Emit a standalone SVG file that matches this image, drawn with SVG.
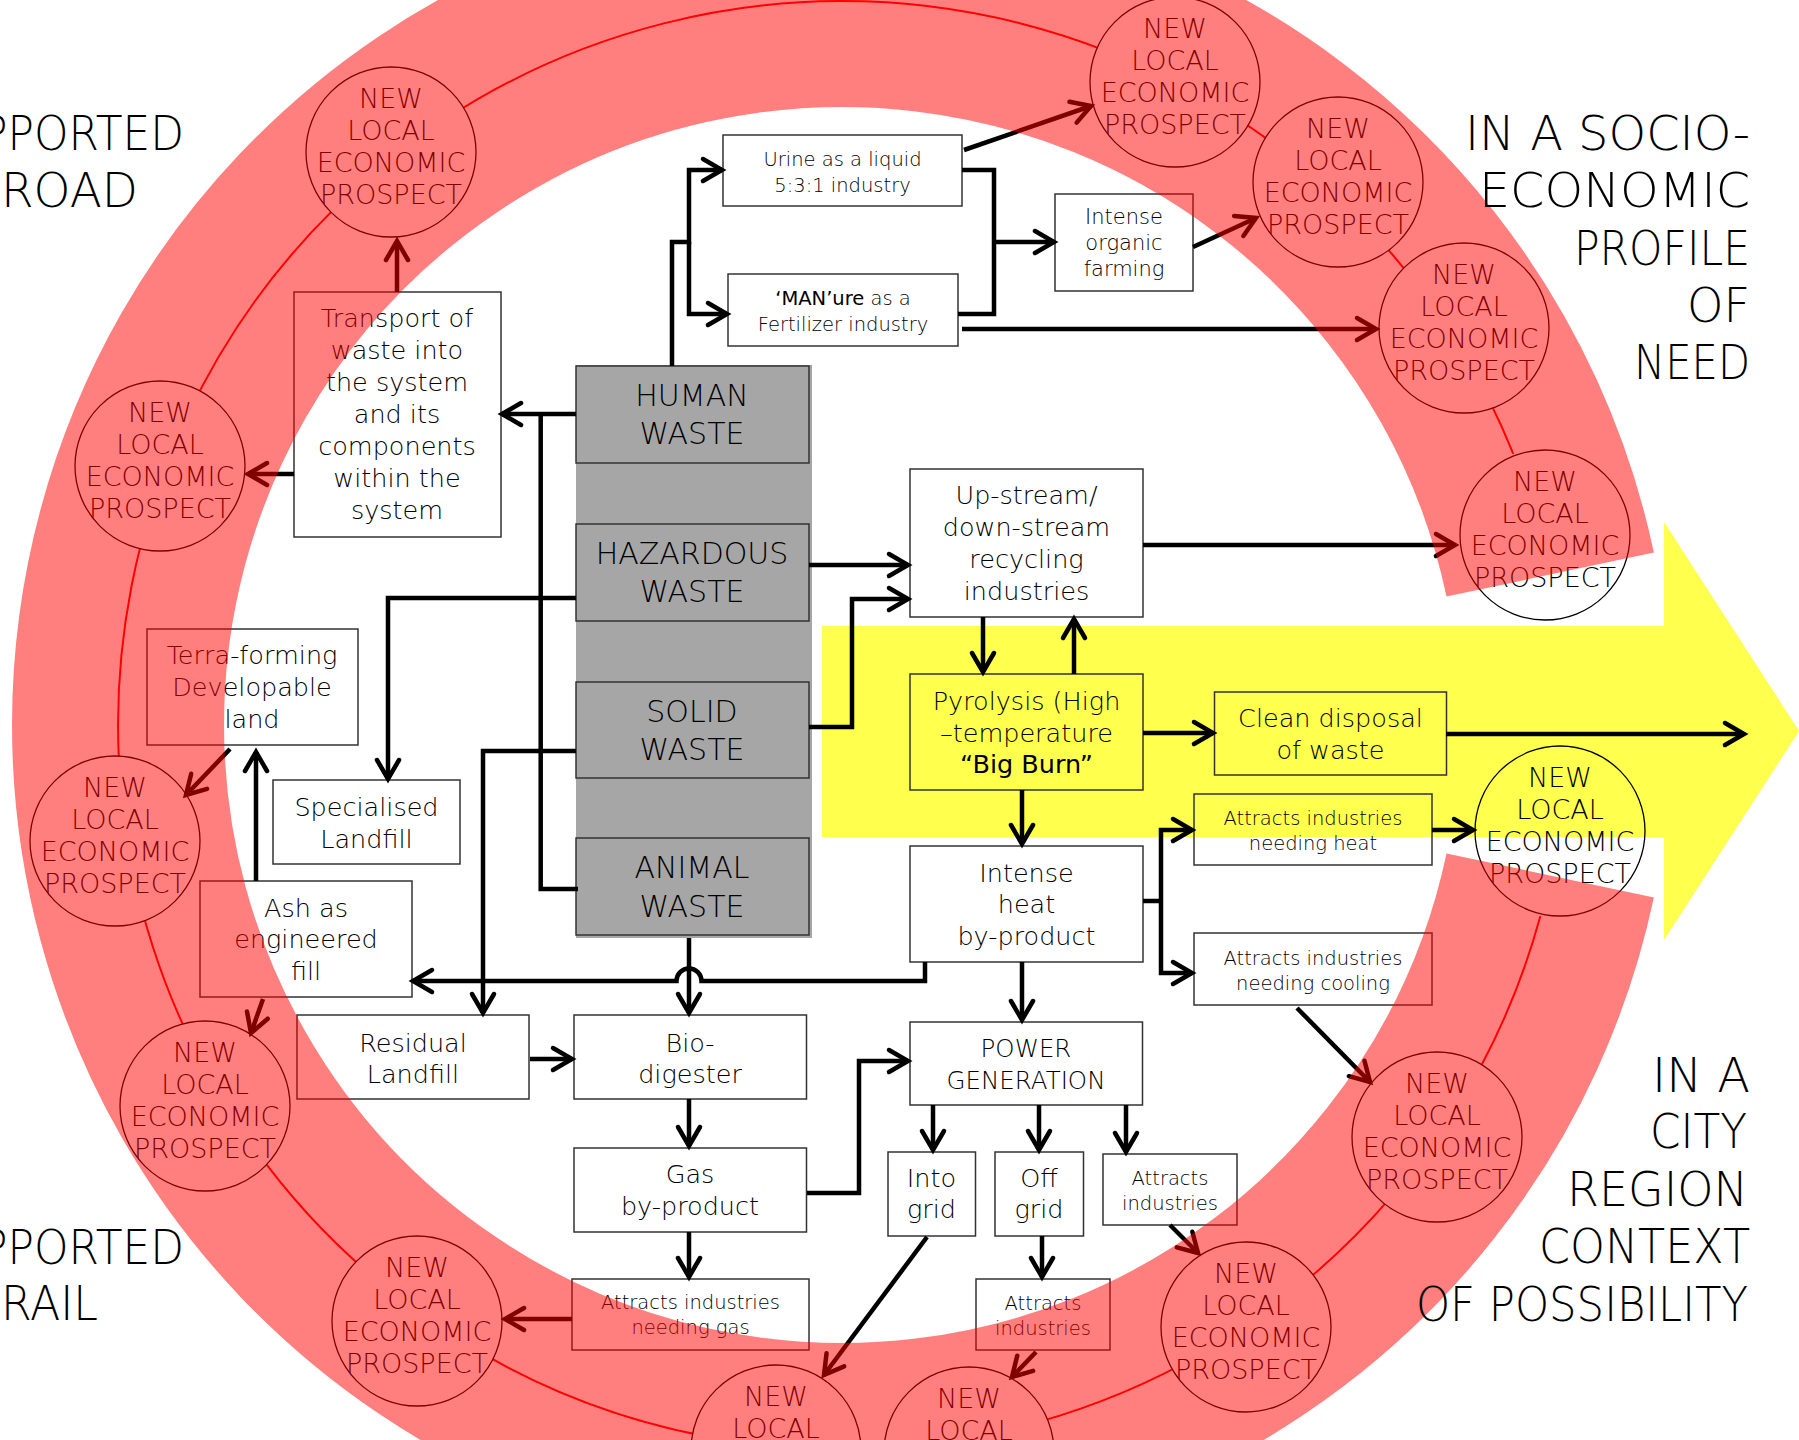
<svg xmlns="http://www.w3.org/2000/svg" width="1799" height="1440" viewBox="0 0 1799 1440">
<defs>
<style>
text { font-family: "DejaVu Sans", "Liberation Sans", sans-serif; font-weight: 200; fill: #000; text-anchor: middle; }
.box { fill: none; stroke: #333; stroke-width: 1.5; }
.waste { fill: #A6A6A6; stroke: #333; stroke-width: 1.5; }
.t30 { font-size: 30px; }
.t25 { font-size: 25.5px; }
.t24 { font-size: 24.5px; }
.t21 { font-size: 21px; }
.t19 { font-size: 19.5px; }
.b { font-weight: 400; }
.circ { fill: #fff; stroke: #000; stroke-width: 1.3; }
.circn { fill: none; stroke: #000; stroke-width: 1.3; }
.ct { font-size: 27px; }
.big { font-size: 48px; text-anchor: start; }
.conn path { fill: none; stroke: #000; stroke-width: 4.5; stroke-linejoin: miter; }
.conn path.a { marker-end: url(#ah); }
</style>
<marker id="ah" markerUnits="userSpaceOnUse" markerWidth="40" markerHeight="40" viewBox="-30 -20 40 40" refX="0" refY="0" orient="auto" overflow="visible">
<path d="M -19 -11 L 0 0 L -19 11" fill="none" stroke="#000" stroke-width="4.5" stroke-linecap="round"/>
</marker>
</defs>

<!-- background shapes -->
<path id="yellow-arrow" d="M 822 626 H 1664 V 522 L 1799 731 L 1664 940 V 837 H 822 Z" fill="#FFFF4D"/>
<path id="ring-line" d="M 1540.4 916.1 A 724 724 0 1 1 1513.3 453.8" fill="none" stroke="#FF0000" stroke-width="2"/>
<rect id="waste-column" x="576" y="365" width="236" height="573" fill="#A6A6A6"/>

<!-- waste sources -->
<g id="human-waste"><rect class="waste" x="576" y="366" width="233" height="97"/><text class="t30" x="692" y="406">HUMAN</text><text class="t30" x="692" y="444">WASTE</text></g>
<g id="hazardous-waste"><rect class="waste" x="576" y="524" width="233" height="97"/><text class="t30" x="692" y="564">HAZARDOUS</text><text class="t30" x="692" y="602">WASTE</text></g>
<g id="solid-waste"><rect class="waste" x="576" y="682" width="233" height="96"/><text class="t30" x="692" y="722">SOLID</text><text class="t30" x="692" y="760">WASTE</text></g>
<g id="animal-waste"><rect class="waste" x="576" y="838" width="233" height="97"/><text class="t30" x="692" y="878">ANIMAL</text><text class="t30" x="692" y="917">WASTE</text></g>

<!-- process boxes -->
<g id="urine"><rect class="box" x="723" y="135" width="239" height="71"/><text class="t19" x="842.5" y="166">Urine as a liquid</text><text class="t19" x="842.5" y="192">5:3:1 industry</text></g>
<g id="manure"><rect class="box" x="728" y="274" width="230" height="72"/><text class="t19" x="843" y="305"><tspan class="b">‘MAN’ure</tspan> as a</text><text class="t19" x="843" y="331">Fertilizer industry</text></g>
<g id="organic-farming"><rect class="box" x="1055" y="194" width="138" height="97"/><text class="t21" x="1124" y="224">Intense</text><text class="t21" x="1124" y="250">organic</text><text class="t21" x="1124" y="276">farming</text></g>
<g id="transport"><rect class="box" x="294" y="292" width="207" height="245"/>
<text class="t25" x="397" y="327">Transport of</text><text class="t25" x="397" y="359">waste into</text><text class="t25" x="397" y="391">the system</text><text class="t25" x="397" y="423">and its</text><text class="t25" x="397" y="455">components</text><text class="t25" x="397" y="487">within the</text><text class="t25" x="397" y="519">system</text></g>
<g id="recycling"><rect class="box" x="910" y="469" width="233" height="148"/><text class="t25" x="1026.5" y="504">Up-stream/</text><text class="t25" x="1026.5" y="536">down-stream</text><text class="t25" x="1026.5" y="568">recycling</text><text class="t25" x="1026.5" y="600">industries</text></g>
<g id="terra-forming"><rect class="box" x="147" y="629" width="211" height="116"/><text class="t25" x="252" y="664">Terra-forming</text><text class="t25" x="252" y="696">Developable</text><text class="t25" x="252" y="728">land</text></g>
<g id="specialised-landfill"><rect class="box" x="273" y="780" width="187" height="84"/><text class="t25" x="366.5" y="816">Specialised</text><text class="t25" x="366.5" y="848">Landfill</text></g>
<g id="ash-fill"><rect class="box" x="200" y="881" width="212" height="116"/><text class="t25" x="306" y="917">Ash as</text><text class="t25" x="306" y="948">engineered</text><text class="t25" x="306" y="980">fill</text></g>
<g id="pyrolysis"><rect class="box" x="910" y="674" width="233" height="116"/><text class="t25" x="1026.5" y="710">Pyrolysis (High</text><text class="t25" x="1026.5" y="742">–temperature</text><text class="t25 b" x="1026.5" y="773">“Big Burn”</text></g>
<g id="clean-disposal"><rect class="box" x="1214.5" y="692" width="232" height="83"/><text class="t25" x="1330.5" y="727">Clean disposal</text><text class="t25" x="1330.5" y="759">of waste</text></g>
<g id="intense-heat"><rect class="box" x="910" y="846" width="233" height="116"/><text class="t25" x="1026.5" y="882">Intense</text><text class="t25" x="1026.5" y="913">heat</text><text class="t25" x="1026.5" y="945">by-product</text></g>
<g id="needing-heat"><rect class="box" x="1194" y="794" width="238" height="71"/><text class="t19" x="1313" y="825">Attracts industries</text><text class="t19" x="1313" y="850">needing heat</text></g>
<g id="needing-cooling"><rect class="box" x="1194" y="933" width="238" height="72"/><text class="t19" x="1313" y="965">Attracts industries</text><text class="t19" x="1313" y="990">needing cooling</text></g>
<g id="residual-landfill"><rect class="box" x="297" y="1015" width="232" height="84"/><text class="t25" x="413" y="1052">Residual</text><text class="t25" x="413" y="1083">Landfill</text></g>
<g id="bio-digester"><rect class="box" x="574" y="1015" width="232.5" height="84"/><text class="t25" x="690" y="1052">Bio-</text><text class="t25" x="690" y="1083">digester</text></g>
<g id="gas"><rect class="box" x="574" y="1148" width="232.5" height="84"/><text class="t25" x="690" y="1183">Gas</text><text class="t25" x="690" y="1215">by-product</text></g>
<g id="needing-gas"><rect class="box" x="572" y="1279" width="237" height="71"/><text class="t19" x="690.5" y="1309">Attracts industries</text><text class="t19" x="690.5" y="1334">needing gas</text></g>
<g id="power"><rect class="box" x="910" y="1022" width="232.5" height="83"/><text class="t24" x="1026" y="1057">POWER</text><text class="t24" x="1026" y="1089">GENERATION</text></g>
<g id="into-grid"><rect class="box" x="888" y="1152" width="87.5" height="84"/><text class="t25" x="931.5" y="1187">Into</text><text class="t25" x="931.5" y="1218">grid</text></g>
<g id="off-grid"><rect class="box" x="995" y="1152" width="88.5" height="84"/><text class="t25" x="1039" y="1187">Off</text><text class="t25" x="1039" y="1218">grid</text></g>
<g id="attracts-power"><rect class="box" x="1103" y="1154" width="134" height="71"/><text class="t19" x="1170" y="1185">Attracts</text><text class="t19" x="1170" y="1210">industries</text></g>
<g id="attracts-offgrid"><rect class="box" x="976" y="1279" width="134" height="71"/><text class="t19" x="1043" y="1310">Attracts</text><text class="t19" x="1043" y="1335">industries</text></g>

<!-- prospects -->
<g id="prospect-1"><circle class="circ" cx="391" cy="152" r="85"/><text class="ct" x="391" y="108">NEW</text><text class="ct" x="391" y="140">LOCAL</text><text class="ct" x="391" y="172">ECONOMIC</text><text class="ct" x="391" y="204">PROSPECT</text></g>
<g id="prospect-2"><circle class="circ" cx="1175" cy="82" r="85"/><text class="ct" x="1175" y="38">NEW</text><text class="ct" x="1175" y="70">LOCAL</text><text class="ct" x="1175" y="102">ECONOMIC</text><text class="ct" x="1175" y="134">PROSPECT</text></g>
<g id="prospect-3"><circle class="circ" cx="1338" cy="182" r="85"/><text class="ct" x="1338" y="138">NEW</text><text class="ct" x="1338" y="170">LOCAL</text><text class="ct" x="1338" y="202">ECONOMIC</text><text class="ct" x="1338" y="234">PROSPECT</text></g>
<g id="prospect-4"><circle class="circ" cx="1464" cy="328" r="85"/><text class="ct" x="1464" y="284">NEW</text><text class="ct" x="1464" y="316">LOCAL</text><text class="ct" x="1464" y="348">ECONOMIC</text><text class="ct" x="1464" y="380">PROSPECT</text></g>
<g id="prospect-5"><circle class="circ" cx="1545" cy="535" r="85"/><text class="ct" x="1545" y="491">NEW</text><text class="ct" x="1545" y="523">LOCAL</text><text class="ct" x="1545" y="555">ECONOMIC</text><text class="ct" x="1545" y="587">PROSPECT</text></g>
<g id="prospect-6"><circle class="circ" cx="160" cy="466" r="85"/><text class="ct" x="160" y="422">NEW</text><text class="ct" x="160" y="454">LOCAL</text><text class="ct" x="160" y="486">ECONOMIC</text><text class="ct" x="160" y="518">PROSPECT</text></g>
<g id="prospect-7"><circle class="circ" cx="115" cy="841" r="85"/><text class="ct" x="115" y="797">NEW</text><text class="ct" x="115" y="829">LOCAL</text><text class="ct" x="115" y="861">ECONOMIC</text><text class="ct" x="115" y="893">PROSPECT</text></g>
<g id="prospect-8"><circle class="circ" cx="205" cy="1106" r="85"/><text class="ct" x="205" y="1062">NEW</text><text class="ct" x="205" y="1094">LOCAL</text><text class="ct" x="205" y="1126">ECONOMIC</text><text class="ct" x="205" y="1158">PROSPECT</text></g>
<g id="prospect-9"><circle class="circ" cx="417" cy="1321" r="85"/><text class="ct" x="417" y="1277">NEW</text><text class="ct" x="417" y="1309">LOCAL</text><text class="ct" x="417" y="1341">ECONOMIC</text><text class="ct" x="417" y="1373">PROSPECT</text></g>
<g id="prospect-10"><circle class="circ" cx="776" cy="1450" r="85"/><text class="ct" x="776" y="1406">NEW</text><text class="ct" x="776" y="1438">LOCAL</text></g>
<g id="prospect-11"><circle class="circ" cx="969" cy="1452" r="85"/><text class="ct" x="969" y="1408">NEW</text><text class="ct" x="969" y="1440">LOCAL</text></g>
<g id="prospect-12"><circle class="circ" cx="1246" cy="1327" r="85"/><text class="ct" x="1246" y="1283">NEW</text><text class="ct" x="1246" y="1315">LOCAL</text><text class="ct" x="1246" y="1347">ECONOMIC</text><text class="ct" x="1246" y="1379">PROSPECT</text></g>
<g id="prospect-13"><circle class="circ" cx="1437" cy="1137" r="85"/><text class="ct" x="1437" y="1093">NEW</text><text class="ct" x="1437" y="1125">LOCAL</text><text class="ct" x="1437" y="1157">ECONOMIC</text><text class="ct" x="1437" y="1189">PROSPECT</text></g>
<g id="prospect-14"><circle class="circn" cx="1560" cy="831" r="85"/><text class="ct" x="1560" y="787">NEW</text><text class="ct" x="1560" y="819">LOCAL</text><text class="ct" x="1560" y="851">ECONOMIC</text><text class="ct" x="1560" y="883">PROSPECT</text></g>

<!-- connectors -->
<g id="connectors" class="conn">
<path class="a" d="M 672 366 V 242 H 689 V 170 H 722"/>
<path class="a" d="M 689 242 V 314 H 727"/>
<path d="M 962 170 H 994 V 314 H 958"/>
<path class="a" d="M 994 242 H 1054"/>
<path class="a" d="M 964 150 L 1091 106"/>
<path class="a" d="M 962 329 H 1376"/>
<path class="a" d="M 1193 247 L 1256 218"/>
<path class="a" d="M 1143 545 H 1455"/>
<path class="a" d="M 576 414 H 502"/>
<path d="M 540.7 414 V 889 H 578"/>
<path class="a" d="M 576 598 H 388 V 779"/>
<path class="a" d="M 809 565 H 908"/>
<path class="a" d="M 809 727 H 852 V 599 H 908"/>
<path class="a" d="M 576 751 H 483 V 1013"/>
<path class="a" d="M 983 617 V 672"/>
<path class="a" d="M 1074 674 V 619"/>
<path class="a" d="M 1143 733 H 1213"/>
<path class="a" d="M 1446 734 H 1744"/>
<path class="a" d="M 1022 790 V 844"/>
<path class="a" d="M 1022 962 V 1020"/>
<path d="M 1143 901 H 1161"/>
<path class="a" d="M 1161 901 V 830 H 1192"/>
<path class="a" d="M 1161 901 V 973 H 1192"/>
<path class="a" d="M 1432 830 H 1473"/>
<path class="a" d="M 1297 1008 L 1370 1082"/>
<path class="a" d="M 925 962 V 981 H 701.5 A 12.5 12.5 0 0 0 676.5 981 H 413"/>
<path class="a" d="M 689 938 V 1013"/>
<path class="a" d="M 530 1059 H 572"/>
<path class="a" d="M 689 1099 V 1146"/>
<path class="a" d="M 689 1232 V 1277"/>
<path class="a" d="M 807 1193 H 859 V 1061 H 908"/>
<path class="a" d="M 933 1105 V 1150"/>
<path class="a" d="M 1039 1105 V 1150"/>
<path class="a" d="M 1126 1105 V 1152"/>
<path class="a" d="M 1042 1236 V 1277"/>
<path class="a" d="M 927 1237 L 824 1375"/>
<path class="a" d="M 1036 1352 L 1012 1377"/>
<path class="a" d="M 1170 1225 L 1198 1253"/>
<path class="a" d="M 572 1319 H 505"/>
<path class="a" d="M 256 881 V 752"/>
<path class="a" d="M 230 749 L 186 795"/>
<path class="a" d="M 263 999 L 251 1033"/>
<path class="a" d="M 397 292 V 241"/>
<path class="a" d="M 294 474 H 248"/>
</g>

<!-- red band overlay -->
<path id="red-band" d="M 1550.2 875.5 A 724 724 0 1 1 1550.2 574.5" fill="none" stroke="#FF0000" stroke-opacity="0.5" stroke-width="212"/>

<!-- context labels -->
<g id="context-labels">
<text class="big" x="-19" y="150" textLength="203" lengthAdjust="spacingAndGlyphs">PPORTED</text>
<text class="big" x="1" y="207" textLength="137" lengthAdjust="spacingAndGlyphs">ROAD</text>
<text class="big" x="-19" y="1264" textLength="203" lengthAdjust="spacingAndGlyphs">PPORTED</text>
<text class="big" x="1" y="1320" textLength="97" lengthAdjust="spacingAndGlyphs">RAIL</text>
<text class="big" x="1465" y="150" textLength="285" lengthAdjust="spacingAndGlyphs">IN A SOCIO-</text>
<text class="big" x="1479" y="207" textLength="271" lengthAdjust="spacingAndGlyphs">ECONOMIC</text>
<text class="big" x="1574" y="265" textLength="176" lengthAdjust="spacingAndGlyphs">PROFILE</text>
<text class="big" x="1687" y="322" textLength="63" lengthAdjust="spacingAndGlyphs">OF</text>
<text class="big" x="1634" y="379" textLength="116" lengthAdjust="spacingAndGlyphs">NEED</text>
<text class="big" x="1652" y="1092" textLength="98" lengthAdjust="spacingAndGlyphs">IN A</text>
<text class="big" x="1650" y="1148" textLength="97" lengthAdjust="spacingAndGlyphs">CITY</text>
<text class="big" x="1567" y="1206" textLength="181" lengthAdjust="spacingAndGlyphs">REGION</text>
<text class="big" x="1539" y="1263" textLength="211" lengthAdjust="spacingAndGlyphs">CONTEXT</text>
<text class="big" x="1416" y="1321" textLength="332" lengthAdjust="spacingAndGlyphs">OF POSSIBILITY</text>
</g>
</svg>
